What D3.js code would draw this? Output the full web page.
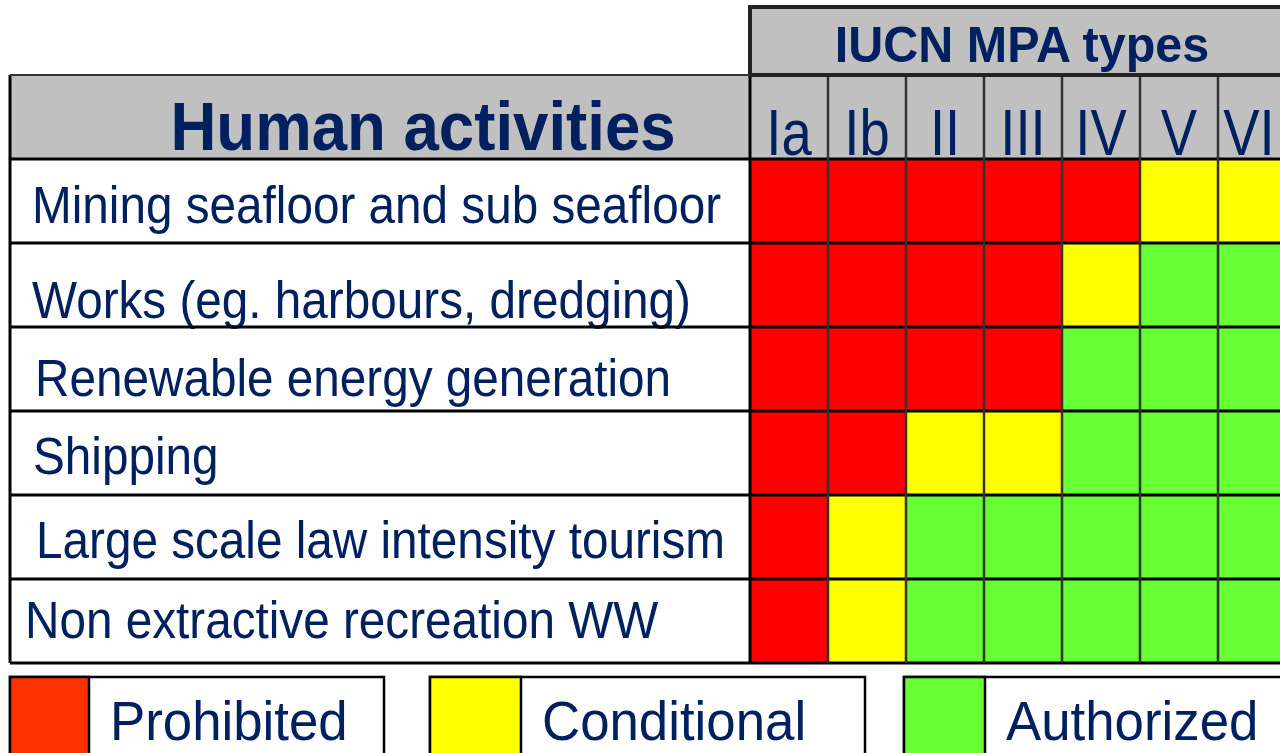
<!DOCTYPE html>
<html>
<head>
<meta charset="utf-8">
<script src="https://cdn.jsdelivr.net/npm/d3@7"></script>
<style>
  body { margin: 0; background: #fff; overflow: hidden; }
  svg { display: block; font-family: "Liberation Sans", Arial, sans-serif; }
</style>
</head>
<body>
<svg id="chart" width="1280" height="753"></svg>
<script>
// activities (rows) and IUCN categories (columns)
const activities = [
  "Mining seafloor and sub seafloor",
  "Works (eg. harbours, dredging)",
  "Renewable energy generation",
  "Shipping",
  "Large scale law intensity tourism",
  "Non extractive recreation WW"
]
const mpaTypes = ["Ia", "Ib", "II", "III", "IV", "V", "VI"]

// P = prohibited, C = conditional, A = authorized
const miningStatus    = ["P", "P", "P", "P", "P", "C", "C"]
const worksStatus     = ["P", "P", "P", "P", "C", "A", "A"]
const renewableStatus = ["P", "P", "P", "P", "A", "A", "A"]
const shippingStatus  = ["P", "P", "C", "C", "A", "A", "A"]
const tourismStatus   = ["P", "C", "A", "A", "A", "A", "A"]
const recreationStatus = ["P", "C", "A", "A", "A", "A", "A"]
const statusRows = [miningStatus, worksStatus, renewableStatus, shippingStatus, tourismStatus, recreationStatus]

const statusCodes = ["P", "C", "A"]
const legendLabels = ["Prohibited", "Conditional", "Authorized"]

const navy = "#002060"
const W = 1280
const svg = d3.select("#chart")

const tblLeft = 10, split = 750, tblTop = 75, headTop = 7
const colW = 78, rowH = 84

const xScale = d3.scaleBand().domain(mpaTypes).range([split, split + colW * mpaTypes.length])
const yScale = d3.scaleBand().domain(activities).range([tblTop + rowH, tblTop + rowH * (activities.length + 1)])
const tblRight = xScale.range()[1]
const tblBottom = yScale.range()[1]

const cellColor = d3.scaleOrdinal().domain(statusCodes).range(["#ff0000", "#ffff00", "#66ff33"])
const swatchColor = d3.scaleOrdinal().domain(statusCodes).range(["#ff3300", "#ffff00", "#66ff33"])

// header backgrounds
svg.append("rect")
  .attr("x", tblLeft).attr("y", tblTop).attr("width", tblRight - tblLeft).attr("height", rowH)
  .attr("fill", "#c0c0c0")
svg.append("rect")
  .attr("x", split).attr("y", headTop).attr("width", tblRight - split + 10).attr("height", tblTop - headTop)
  .attr("fill", "#c0c0c0").attr("stroke", "#222").attr("stroke-width", 4)

svg.append("text")
  .attr("transform", `translate(1022,62) scale(0.97,1)`)
  .attr("text-anchor", "middle")
  .attr("font-size", 50).attr("font-weight", "bold").attr("fill", navy)
  .text("IUCN MPA types")

svg.append("text")
  .attr("transform", `translate(423,150) scale(0.935,1)`)
  .attr("text-anchor", "middle")
  .attr("font-size", 68).attr("font-weight", "bold").attr("fill", navy)
  .text("Human activities")

// column headings (last one centred on its visible part)
svg.append("g").selectAll("text")
  .data(mpaTypes)
  .join("text")
    .attr("transform", d => {
      const x0 = xScale(d), x1 = Math.min(x0 + xScale.bandwidth(), W)
      return `translate(${(x0 + x1) / 2},155) scale(0.85,1)`
    })
    .attr("text-anchor", "middle")
    .attr("font-size", 64).attr("fill", navy)
    .text(d => d)

// cells
const cells = []
statusRows.forEach((row, i) => row.forEach((s, j) => cells.push({act: activities[i], type: mpaTypes[j], s})))
svg.append("g").selectAll("rect")
  .data(cells)
  .join("rect")
    .attr("x", d => xScale(d.type))
    .attr("y", d => yScale(d.act))
    .attr("width", xScale.bandwidth())
    .attr("height", yScale.bandwidth())
    .attr("fill", d => cellColor(d.s))

// row labels
const labelX = [32, 32, 35, 33, 36, 25]
const labelDy = [64, 75, 69, 63, 63, 59]
svg.append("g").selectAll("text")
  .data(activities)
  .join("text")
    .attr("transform", (d, i) => `translate(${labelX[i]},${yScale(d) + labelDy[i]}) scale(0.935,1)`)
    .attr("font-size", 51).attr("fill", navy)
    .text(d => d)

// grid lines
const grid = svg.append("g").attr("stroke", "#000").attr("stroke-width", 3)
grid.selectAll(".h")
  .data(activities.concat(["_end"]))
  .join("line")
    .attr("x1", tblLeft).attr("x2", tblRight)
    .attr("y1", d => d === "_end" ? tblBottom : yScale(d))
    .attr("y2", d => d === "_end" ? tblBottom : yScale(d))
grid.selectAll(".v")
  .data(mpaTypes)
  .join("line")
    .attr("x1", d => xScale(d)).attr("x2", d => xScale(d))
    .attr("y1", tblTop + 2).attr("y2", tblBottom)
    .attr("stroke", (d, i) => i === 0 ? "#000" : "#333")
    .attr("stroke-width", (d, i) => i === 0 ? 3 : 2.5)
svg.append("line")
  .attr("x1", tblLeft).attr("x2", tblLeft).attr("y1", tblTop).attr("y2", tblBottom)
  .attr("stroke", "#000").attr("stroke-width", 3)
svg.append("line")
  .attr("x1", tblLeft).attr("x2", split).attr("y1", tblTop).attr("y2", tblTop)
  .attr("stroke", "#333").attr("stroke-width", 2)

// legend
const legendBoxes = [[10, 384, 89], [430, 865, 521], [904, 1300, 985]]
const legend = svg.append("g").selectAll("g")
  .data(statusCodes)
  .join("g")
legend.append("rect")
  .attr("x", (d, i) => legendBoxes[i][0]).attr("y", 677)
  .attr("width", (d, i) => legendBoxes[i][1] - legendBoxes[i][0]).attr("height", 100)
  .attr("fill", "#fff").attr("stroke", "#000").attr("stroke-width", 2.5)
legend.append("rect")
  .attr("x", (d, i) => legendBoxes[i][0]).attr("y", 677)
  .attr("width", (d, i) => legendBoxes[i][2] - legendBoxes[i][0]).attr("height", 100)
  .attr("fill", d => swatchColor(d)).attr("stroke", "#000").attr("stroke-width", 2.5)
legend.append("text")
  .attr("transform", (d, i) => `translate(${legendBoxes[i][2] + 21},740) scale(0.96,1)`)
  .attr("font-size", 55).attr("fill", navy)
  .text((d, i) => legendLabels[i])
</script>
</body>
</html>
